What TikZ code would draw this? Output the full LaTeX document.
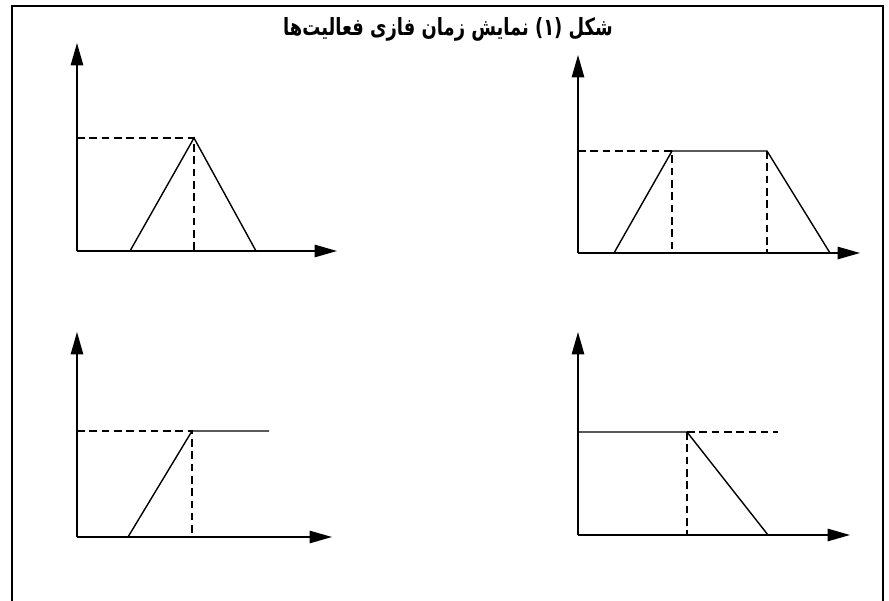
\documentclass[tikz,border=0pt]{standalone}
\usepackage{fontspec}
\usetikzlibrary{arrows.meta}
\newfontfamily\arabicfont[Script=Arabic]{DejaVu Sans}
\TeXXeTstate=1
\begin{document}
\begin{tikzpicture}[x=0.03cm,y=-0.03cm,
  axis/.style={line width=1.4pt,-{Triangle[length=19pt,width=10.5pt]}},
  curve/.style={line width=1.2pt},
  guide/.style={line width=1.1pt,dash pattern=on 6.5pt off 4pt},
  frame/.style={line width=2pt},
  titletext/.style={font=\arabicfont\bfseries\fontsize{15}{18}\selectfont,inner sep=0pt}]
\useasboundingbox (0,0) rectangle (889,601);
\clip (0,0) rectangle (889,601);
\fill[white] (0,0) rectangle (889,601);
% frame
\coordinate (F-bl) at (12,640);
\coordinate (F-tl) at (12,6);
\coordinate (F-tr) at (883,6);
\coordinate (F-br) at (883,640);
\draw[frame] (F-bl) -- (F-tl) -- (F-tr) -- (F-br);
% title
\node[titletext] (title) at (448,29) {\scalebox{1.02}[1.35]{\beginR شکل (۱) نمایش زمان فازی فعالیت‌ها\endR}};
% plot A: triangle (top left)
\coordinate (A-o) at (77,251);
\coordinate (A-y) at (77,43);
\coordinate (A-x) at (337,251);
\coordinate (A-l) at (130,251);
\coordinate (A-p) at (194,138);
\coordinate (A-r) at (256,251);
\coordinate (A-h) at (77,138);
\coordinate (A-f) at (194,251);
\draw[axis] (A-o) -- (A-y);
\draw[axis] (A-o) -- (A-x);
\draw[curve] (A-l) -- (A-p) -- (A-r);
\draw[guide] (A-h) -- (A-p) -- (A-f);
% plot B: trapezoid (top right)
\coordinate (B-o) at (578,253);
\coordinate (B-y) at (578,55);
\coordinate (B-x) at (860,253);
\coordinate (B-l) at (614,253);
\coordinate (B-p) at (672,151);
\coordinate (B-q) at (767,151);
\coordinate (B-r) at (830,253);
\coordinate (B-h) at (578,151);
\coordinate (B-f1) at (672,253);
\coordinate (B-f2) at (767,253);
\draw[axis] (B-o) -- (B-y);
\draw[axis] (B-o) -- (B-x);
\draw[curve] (B-l) -- (B-p) -- (B-q) -- (B-r);
\draw[guide] (B-h) -- (B-p) -- (B-f1);
\draw[guide] (B-q) -- (B-f2);
% plot C: rising ramp (bottom left)
\coordinate (C-o) at (77,537);
\coordinate (C-y) at (77,332);
\coordinate (C-x) at (332,537);
\coordinate (C-l) at (128,537);
\coordinate (C-p) at (192,431);
\coordinate (C-e) at (269,431);
\coordinate (C-h) at (77,431);
\coordinate (C-f) at (192,537);
\draw[axis] (C-o) -- (C-y);
\draw[axis] (C-o) -- (C-x);
\draw[curve] (C-l) -- (C-p) -- (C-e);
\draw[guide] (C-h) -- (C-p) -- (C-f);
% plot D: falling ramp (bottom right)
\coordinate (D-o) at (578,535);
\coordinate (D-y) at (578,332);
\coordinate (D-x) at (850,535);
\coordinate (D-h) at (578,432);
\coordinate (D-p) at (687,432);
\coordinate (D-e) at (778,432);
\coordinate (D-f) at (687,535);
\coordinate (D-r) at (768,535);
\draw[axis] (D-o) -- (D-y);
\draw[axis] (D-o) -- (D-x);
\draw[curve] (D-h) -- (D-p) -- (D-r);
\draw[guide] (D-p) -- (D-e);
\draw[guide] (D-p) -- (D-f);
\end{tikzpicture}
\end{document}
